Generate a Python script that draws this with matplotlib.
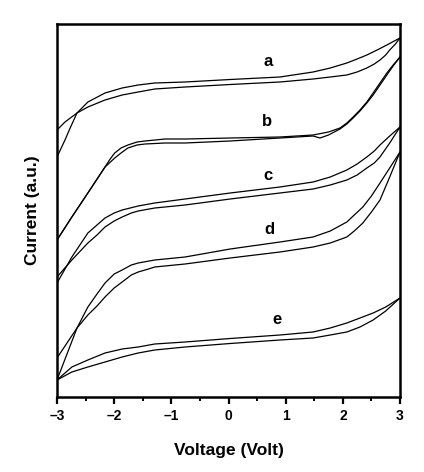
import matplotlib
matplotlib.use("Agg")
import matplotlib.pyplot as plt
from matplotlib.ticker import MultipleLocator, NullLocator

plt.rcParams['font.family'] = ['Liberation Sans', 'DejaVu Sans']

# Voltage (V) and current (a.u.), two branches per loop
a_up_x = [-3.0, -2.86, -2.77, -2.65, -2.46, -2.16, -1.86, -1.58, -1.29, -0.76, 0.03, 0.90, 1.48, 1.78, 2.07, 2.25, 2.42, 2.60, 2.77, 2.90, 3.0]
a_up_y = [240, 257, 269, 284, 295, 304, 309, 312, 314, 315, 317.5, 320, 325, 329, 334, 338, 342, 347, 352, 356, 359]
a_lo_x = [-3.0, -2.86, -2.65, -2.46, -2.16, -1.86, -1.58, -1.29, -0.76, 0.03, 0.90, 1.48, 1.78, 2.07, 2.25, 2.42, 2.55, 2.65, 2.75, 2.82, 2.92, 3.0]
a_lo_y = [267, 275, 284, 290, 297, 302, 305, 308, 310, 312.5, 315, 318, 320, 322, 325, 329, 333, 337, 342, 347, 353, 359]

b_up_x = [-3.0, -2.74, -2.46, -2.16, -2.07, -1.99, -1.88, -1.76, -1.60, -1.46, -1.11, -0.76, 0.03, 0.90, 1.48, 1.75, 1.95, 2.07, 2.18, 2.30, 2.42, 2.53, 2.65, 2.77, 2.88, 3.0]
b_up_y = [157, 180, 204, 230, 238, 244, 249, 252, 255, 256, 258, 258, 259, 260, 262, 265, 269, 274, 280, 287, 295, 304, 314, 324, 332, 340]
b_lo_x = [-3.0, -2.74, -2.46, -2.16, -1.99, -1.88, -1.76, -1.60, -1.46, -1.11, -0.76, 0.03, 0.90, 1.48, 1.60, 1.75, 1.95, 2.07, 2.18, 2.30, 2.42, 2.53, 2.65, 2.77, 2.88, 3.0]
b_lo_y = [157, 180, 204, 230, 239, 244, 249, 252, 253, 254, 254, 256, 259, 261, 259, 262, 268, 273, 279, 286, 294, 302, 312, 322, 331, 340]

c_up_x = [-3.0, -2.74, -2.46, -2.30, -2.16, -2.00, -1.86, -1.58, -1.29, -0.76, 0.03, 0.90, 1.48, 1.78, 2.07, 2.25, 2.42, 2.55, 2.65, 2.82, 3.0]
c_up_y = [114, 140, 164, 172, 179, 184, 187, 191, 194, 198, 204, 210, 215, 220, 227, 233, 240, 246, 252, 261, 270]
c_lo_x = [-3.0, -2.74, -2.46, -2.30, -2.16, -2.00, -1.86, -1.70, -1.58, -1.29, -0.76, 0.03, 0.90, 1.48, 1.78, 2.07, 2.25, 2.42, 2.55, 2.65, 2.82, 3.0]
c_lo_y = [120, 137, 154, 162, 170, 176, 180, 184, 186, 189, 192, 198, 204, 208, 212, 217, 222, 229, 234, 240, 254, 270]

d_up_x = [-3.0, -2.65, -2.46, -2.30, -2.16, -2.00, -1.86, -1.70, -1.58, -1.29, -0.76, 0.03, 0.90, 1.48, 1.78, 2.07, 2.20, 2.35, 2.50, 2.65, 2.82, 3.0]
d_up_y = [17, 69, 90, 103, 114, 123, 127, 132, 134, 137, 140, 148, 155, 160, 166, 175, 182, 190, 201, 214, 229, 245]
d_lo_x = [-3.0, -2.65, -2.46, -2.30, -2.16, -2.00, -1.86, -1.70, -1.58, -1.40, -1.29, -0.76, 0.03, 0.90, 1.48, 1.78, 2.07, 2.20, 2.35, 2.50, 2.65, 2.82, 3.0]
d_lo_y = [39, 69, 82, 91, 100, 109, 115, 122, 125, 128, 130, 133, 139, 145, 150, 154, 160, 166, 174, 185, 197, 220, 245]

e_up_x = [-3.0, -2.74, -2.46, -2.16, -1.86, -1.58, -1.29, -0.76, 0.03, 0.90, 1.48, 1.78, 2.07, 2.30, 2.53, 2.75, 3.0]
e_up_y = [17, 30, 37, 44, 48, 50, 53, 55, 58.5, 62, 65, 69, 74, 79, 84, 90, 99]
e_lo_x = [-3.0, -2.74, -2.46, -2.16, -1.86, -1.58, -1.29, -0.76, 0.03, 0.90, 1.48, 1.78, 2.07, 2.30, 2.53, 2.75, 3.0]
e_lo_y = [17, 25, 30, 35, 40, 44, 47, 50, 53.5, 57, 59, 62, 65, 70, 77, 86, 99]

labels = ['a', 'b', 'c', 'd', 'e']
label_x = [0.69, 0.67, 0.69, 0.72, 0.85]
label_y = [335, 276, 221, 167, 77]

x_ticks = [-3, -2, -1, 0, 1, 2, 3]
x_tick_labels = ['\u20133', '\u20132', '\u20131', '0', '1', '2', '3']

fig = plt.figure(figsize=(4.24, 4.72), dpi=100)
ax = fig.add_axes([57 / 424, 1 - 397 / 472, 343 / 424, 373 / 472])

loops = [(a_up_x, a_up_y, a_lo_x, a_lo_y), (b_up_x, b_up_y, b_lo_x, b_lo_y),
         (c_up_x, c_up_y, c_lo_x, c_lo_y), (d_up_x, d_up_y, d_lo_x, d_lo_y),
         (e_up_x, e_up_y, e_lo_x, e_lo_y)]
for ux, uy, lx, ly in loops:
    ax.plot(ux, uy, color='black', lw=0.9, solid_joinstyle='round')
    ax.plot(lx, ly, color='black', lw=0.9, solid_joinstyle='round')

for t, x, y in zip(labels, label_x, label_y):
    ax.text(x, y, t, fontsize=12, fontweight='bold', ha='center', va='center')

ax.set_xlim(-3, 3)
ax.set_ylim(0, 373)
ax.set_xticks(x_ticks)
ax.set_xticklabels(x_tick_labels, fontsize=10, fontweight='bold')
ax.xaxis.set_minor_locator(MultipleLocator(0.5))
ax.yaxis.set_major_locator(NullLocator())
ax.tick_params(axis='x', which='major', direction='out', length=5, width=1.6, pad=4)
ax.tick_params(axis='x', which='minor', direction='out', length=3, width=1.4)
for s in ax.spines.values():
    s.set_linewidth(1.8)

ax.set_xlabel('Voltage (Volt)', fontsize=12.5, fontweight='bold', labelpad=14)
ax.set_ylabel('Current (a.u.)', fontsize=12.5, fontweight='bold', labelpad=12)

fig.savefig('out.png', dpi=100)
